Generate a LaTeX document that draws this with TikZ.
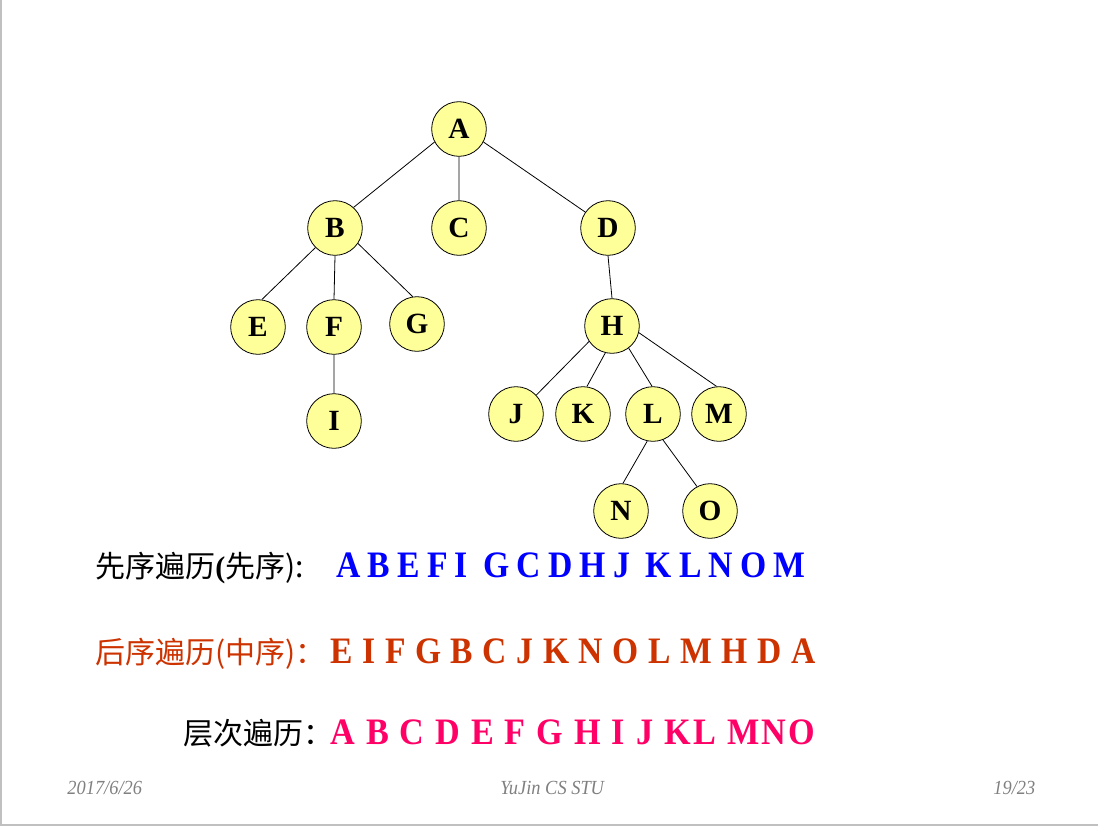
\documentclass[tikz,border=0pt]{standalone}
\usepackage{fontspec}
\usepackage{graphicx}
\setmainfont{Liberation Serif}
\newfontfamily\cjk{Noto Sans CJK SC}
\newfontfamily\seqfont[FakeStretch=0.85]{Liberation Serif}
\newfontfamily\footfont[FakeStretch=0.92]{Liberation Serif}
\definecolor{vtxfill}{HTML}{FFFF99}
\definecolor{preblue}{HTML}{0000FF}
\definecolor{postred}{HTML}{CC3300}
\definecolor{levpink}{HTML}{FF0066}
\definecolor{footgray}{HTML}{808080}
\definecolor{framegray}{HTML}{C0C0C0}
\newcommand\seqline[3]{\resizebox{#1}{\height}{\fontsize{28}{28}\seqfont\bfseries
  \addfontfeature{LetterSpace=#2}#3}}
\begin{document}
\begin{tikzpicture}[x=0.75pt,y=-0.75pt,line width=0.6pt,
    vtx/.style={circle,draw,fill=vtxfill,minimum size=41pt,inner sep=0pt,
      font=\fontsize{22}{22}\selectfont\bfseries},
    lbl/.style={anchor=base west,inner sep=0pt,font=\fontsize{22.5}{22.5}\selectfont\bfseries},
    foot/.style={anchor=base west,inner sep=0pt,text=footgray,
      font=\fontsize{15}{15}\selectfont\footfont\itshape}]
  \useasboundingbox (0,0) rectangle (1098,826);
  \draw[framegray,line width=1.2pt] (0.8,0) -- (0.8,825) -- (1098,825);
  % tree
  \path (459,129) node[vtx] (A) {A}
    (335,228) node[vtx] (B) {B}  (459,228) node[vtx] (C) {C}  (608,228) node[vtx] (D) {D}
    (258,327) node[vtx] (E) {E}  (334,327) node[vtx] (F) {F}  (417,324) node[vtx] (G) {G}
    (612,326) node[vtx] (H) {H}  (334,421) node[vtx] (I) {I}
    (516,414) node[vtx] (J) {J}  (583,414) node[vtx] (K) {K}
    (653,414) node[vtx] (L) {L}  (719,414) node[vtx] (M) {M}
    (621,511) node[vtx] (N) {N}  (710,511) node[vtx] (O) {O};
  \draw (A.208) -- (B.48) (A.south) -- (C.north) (A.332) -- (D.145)
    (B.225) -- (E.82) (B.south) -- (F.north) (B.326) -- (G.99)
    (F.south) -- (I.north) (D.south) -- (H.north)
    (H.214) -- (J.43) (H.256) -- (K.82) (H.307) -- (L.92) (H.346) -- (M.95)
    (L.258) -- (N.86) (L.291) -- (O.118);
  % traversals
  \node[lbl] (pre) at (95,577) {{\cjk\mdseries 先序遍历}(\cjk\mdseries 先序):};
  \node[lbl,text=preblue] (preseq) at (336,577) {\seqline{351.75pt}{18}{ABEFI GCDHJ KLNOM}};
  \node[lbl,text=postred] (post) at (95,663) {{\cjk\mdseries 后序遍历(中序)：}};
  \node[lbl,text=postred] (postseq) at (330,663) {\seqline{363.75pt}{3}{E I F G B C J K N O L M H D A}};
  \node[lbl] (lev) at (183,744) {{\cjk\mdseries 层次遍历：}};
  \node[lbl,text=levpink] (levseq) at (330,744) {\seqline{363.75pt}{6}{A B C D E F G H I J KL MNO}};
  % footer
  \node[foot] (date) at (67,794) {2017/6/26};
  \node[foot] (who) at (500,794) {YuJin CS STU};
  \node[foot] (page) at (993,794) {19/23};
\end{tikzpicture}
\end{document}
